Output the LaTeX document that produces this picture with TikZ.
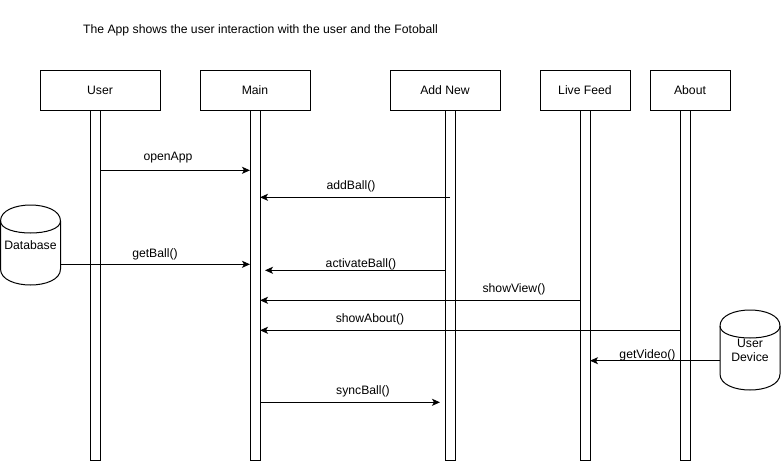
\documentclass[tikz,border=0pt]{standalone}
\usepackage{fontspec}
\setmainfont{Liberation Sans}
\usetikzlibrary{arrows.meta,calc}
\begin{document}
\begin{tikzpicture}[x=1pt,y=-1pt,
  font=\fontsize{12.2}{14}\selectfont,
  every node/.style={inner sep=0pt,outer sep=0pt},
  headbox/.style={draw,line width=1pt,minimum height=40pt,minimum width=#1},
  lifeline/.style={draw,fill=white,line width=1pt,minimum width=10pt,minimum height=350pt},
  cylbox/.style={minimum width=60pt,minimum height=80pt,align=center},
  cyl/.style={draw,line width=1pt},
  msg/.style={draw,line width=1pt,-{Stealth[length=8pt,width=7pt,inset=2pt]}},
  lbl/.style={anchor=center}]
\useasboundingbox (0,0) rectangle (782,464);

% title
\node (title) at (260.5,30) {The App shows the user interaction with the user and the Fotoball};

% header boxes
\node[headbox=120pt] (user)  at (100,90) {User};
\node[headbox=110pt] (main)  at (255,90) {Main};
\node[headbox=110pt] (addn)  at (445,90) {Add New};
\node[headbox=90pt]  (live)  at (585,90) {Live Feed};
\node[headbox=80pt]  (about) at (690,90) {About};

% lifelines
\node[lifeline] (userL)  at (95,285) {};
\node[lifeline] (mainL)  at (255,285) {};
\node[lifeline] (addL)   at (450,285) {};
\node[lifeline] (liveL)  at (585,285) {};
\node[lifeline] (aboutL) at (685,285) {};

% cylinders
\node[cylbox] (db) at (30.5,245) {Database};
\draw[cyl,shift={(db.north west)}] (0,16) .. controls (0,-5.33) and (60,-5.33) .. (60,16) -- (60,64) .. controls (60,85.33) and (0,85.33) .. (0,64) -- cycle;
\draw[cyl,shift={(db.north west)}] (0,16) .. controls (0,32) and (60,32) .. (60,16);

\node[cylbox] (dev) at (750,350) {User\\Device};
\draw[cyl,shift={(dev.north west)}] (0,16) .. controls (0,-5.33) and (60,-5.33) .. (60,16) -- (60,64) .. controls (60,85.33) and (0,85.33) .. (0,64) -- cycle;
\draw[cyl,shift={(dev.north west)}] (0,16) .. controls (0,32) and (60,32) .. (60,16);

% message heights
\coordinate (m1) at (0,170.3);
\coordinate (m2) at (0,197.3);
\coordinate (m3) at (0,264.3);
\coordinate (m4) at (0,270.3);
\coordinate (m5) at (0,300.3);
\coordinate (m6) at (0,330.3);
\coordinate (m7) at (0,360.7);
\coordinate (m8) at (0,402.3);

% messages
\draw[msg] (userL.east |- m1) -- (mainL.west |- m1);
\draw[msg] (addL |- m2) -- (mainL.east |- m2);
\draw[msg] (db.east |- m3) -- (mainL.west |- m3);
\draw[msg] (addL.west |- m4) -- ($(mainL.east |- m4)+(5,0)$);
\draw[msg] (liveL.west |- m5) -- (mainL.east |- m5);
\draw[msg] (aboutL.west |- m6) -- (mainL.east |- m6);
\draw[msg] (dev.west |- m7) -- (liveL.east |- m7);
\draw[msg] (mainL.east |- m8) -- ($(addL.west |- m8)+(-5,0)$);

% labels
\node[lbl] (l1) at (168,158) {openApp};
\node[lbl] (l2) at (351,186) {addBall()};
\node[lbl] (l3) at (155,254) {getBall()};
\node[lbl] (l4) at (361,264) {activateBall()};
\node[lbl] (l5) at (514,289) {showView()};
\node[lbl] (l6) at (370,319) {showAbout()};
\node[lbl] (l7) at (647.5,355) {getVideo()};
\node[lbl] (l8) at (363,391) {syncBall()};
\end{tikzpicture}
\end{document}
